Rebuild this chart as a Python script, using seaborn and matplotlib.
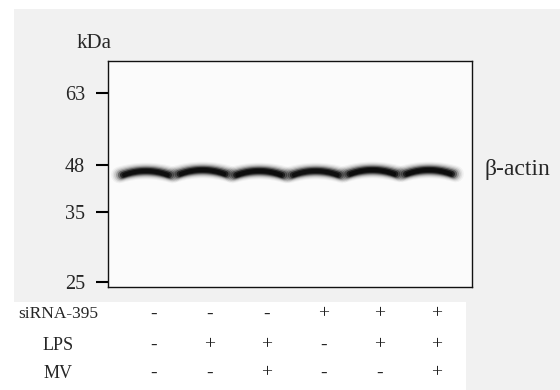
import numpy as np
import pandas as pd
import matplotlib
matplotlib.use("Agg")
import matplotlib.pyplot as plt
import matplotlib.transforms as mtrans
from matplotlib.patches import Rectangle
import seaborn as sns

lanes = [1, 2, 3, 4, 5, 6]
band_migration = [112, 111, 112, 112, 111, 111]   # distance from top of membrane
band_intensity = [0.95, 0.97, 1.0, 0.93, 1.0, 1.0]
marker_kda = [63, 48, 35, 25]
marker_migration = [32, 104, 151, 221]
sirna = ["-", "-", "-", "+", "+", "+"]
lps = ["-", "+", "+", "-", "+", "+"]
mv = ["-", "-", "+", "-", "-", "+"]
row_labels = ["siRNA-395", "LPS", "MV"]
protein = "β-actin"

sns.set_style("white")
plt.rcParams["font.family"] = ["Liberation Serif", "DejaVu Serif"]

fig = plt.figure(figsize=(5.6, 3.9), dpi=100, facecolor="white")
# grey page behind the blot, white strip for the treatment table
fig.patches.append(Rectangle((14 / 560, 0), 1, 1 - 9 / 390, transform=fig.transFigure,
                             facecolor="#f1f1f1", edgecolor="none", zorder=-3))
fig.patches.append(Rectangle((14 / 560, 0), (466 - 14) / 560, 88 / 390, transform=fig.transFigure,
                             facecolor="white", edgecolor="none", zorder=-2))

ax = fig.add_axes([108 / 560, 1 - 287 / 390, 364 / 560, 226 / 390])
ax.set_facecolor("#fbfbfb")

# bands: layered thick lines give the soft chemiluminescent edge
layers = [(1.00, 12.0, 0.04), (0.98, 10.5, 0.07), (0.96, 9.0, 0.12), (0.93, 7.5, 0.22),
          (0.90, 6.0, 0.40), (0.86, 4.5, 0.70), (0.82, 3.0, 0.90)]
half = 0.47
for lane, mig, inten in zip(lanes, band_migration, band_intensity):
    for frac, lw, a in layers:
        u = np.linspace(-1, 1, 40)
        xs = lane + u * half * frac
        ys = mig - 2 + 4 * u ** 2
        sns.lineplot(x=xs, y=ys, ax=ax, color="#0a0a0a", lw=lw, alpha=a * inten,
                     solid_capstyle="round", estimator=None, sort=False)

ax.set_xlim(0.33, 6.76)
ax.set_ylim(226, 0)
ax.set_xticks([])
ax.set_yticks(marker_migration, labels=[str(k) for k in marker_kda])
ax.tick_params(axis="y", left=True, length=8.5, width=1.5, pad=8, labelsize=14.5, color="black")
for s in ax.spines.values():
    s.set_visible(True)
    s.set_color("#111111")
    s.set_linewidth(1.0)
ax.set_xlabel("")
ax.set_ylabel("")

fig.text(94 / 560, 1 - 44 / 390, "kDa", ha="center", va="center", fontsize=15)
fig.text(484 / 560, 1 - 170 / 390, protein, ha="left", va="center", fontsize=17)

# treatment table under the lanes
tr = mtrans.blended_transform_factory(ax.transData, fig.transFigure)
row_y = [1 - 314 / 390, 1 - 345 / 390, 1 - 373 / 390]
for lab, signs, y in zip(row_labels, [sirna, lps, mv], row_y):
    fig.text(58 / 560, y, lab, ha="center", va="center", fontsize=13 if lab != "siRNA-395" else 12.5)
    for lane, s in zip(lanes, signs):
        ax.text(lane + 0.13, y, s, transform=tr, ha="center", va="center", fontsize=14,
                color="#222222")

fig.savefig("out.png", dpi=100, facecolor=fig.get_facecolor())
